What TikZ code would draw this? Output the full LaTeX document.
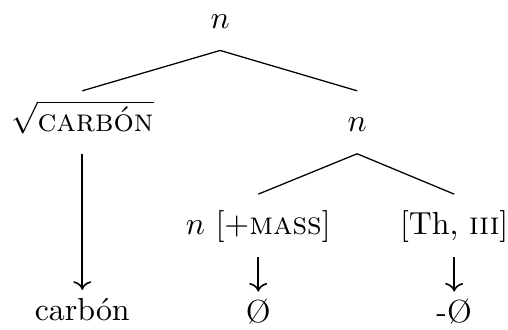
\documentclass[tikz,border=0pt]{standalone}
\usetikzlibrary{arrows.meta,positioning}

\begin{document}
\begin{tikzpicture}[
    every node/.style={text=black},
    tnode/.style={
        inner xsep=0pt, inner ysep=1mm,
        text height=3.4mm, text depth=1.4mm
    },
    leaf/.style={
        inner xsep=0pt, inner ysep=1mm,
        text height=2.3mm, text depth=0.7mm
    },
    branch/.style={line width=0.4pt},
    spellout/.style={->, line width=0.5pt},
]

% frame: root baseline sits at the origin
\useasboundingbox (-24.27mm,3.09mm) rectangle ++(56mm,-36.3mm);

% =====================================================
% Tree
% =====================================================

\node[tnode, anchor=base] (root) at (0,0) {$n$};
\node[tnode, below=4.45mm of root, xshift=-15.2mm] (rt) {$\sqrt{\textsc{carbón}}$};
\node[tnode, below=4.45mm of root, xshift=15.1mm]  (n1) {$n$};

\node[tnode, below=4.45mm of n1, xshift=-10.9mm] (nmass) {$n$ [$+$\textsc{mass}]};
\node[tnode, below=4.45mm of n1, xshift=10.7mm]  (th)    {[Th, \textsc{iii}]};

\draw[branch] (root.south) -- (rt.north);
\draw[branch] (root.south) -- (n1.north);
\draw[branch] (n1.south) -- (nmass.north);
\draw[branch] (n1.south) -- (th.north);

% =====================================================
% Exponents
% =====================================================

\node[leaf, below=15mm of rt]    (carbon) {carbón};
\node[leaf, below=3.8mm of nmass] (null1) {Ø};
\node[leaf, below=3.8mm of th]    (null2) {-Ø};

\draw[spellout] (rt.south)    -- (carbon.north);
\draw[spellout] (nmass.south) -- (null1.north);
\draw[spellout] (th.south)    -- (null2.north);

\end{tikzpicture}
\end{document}
